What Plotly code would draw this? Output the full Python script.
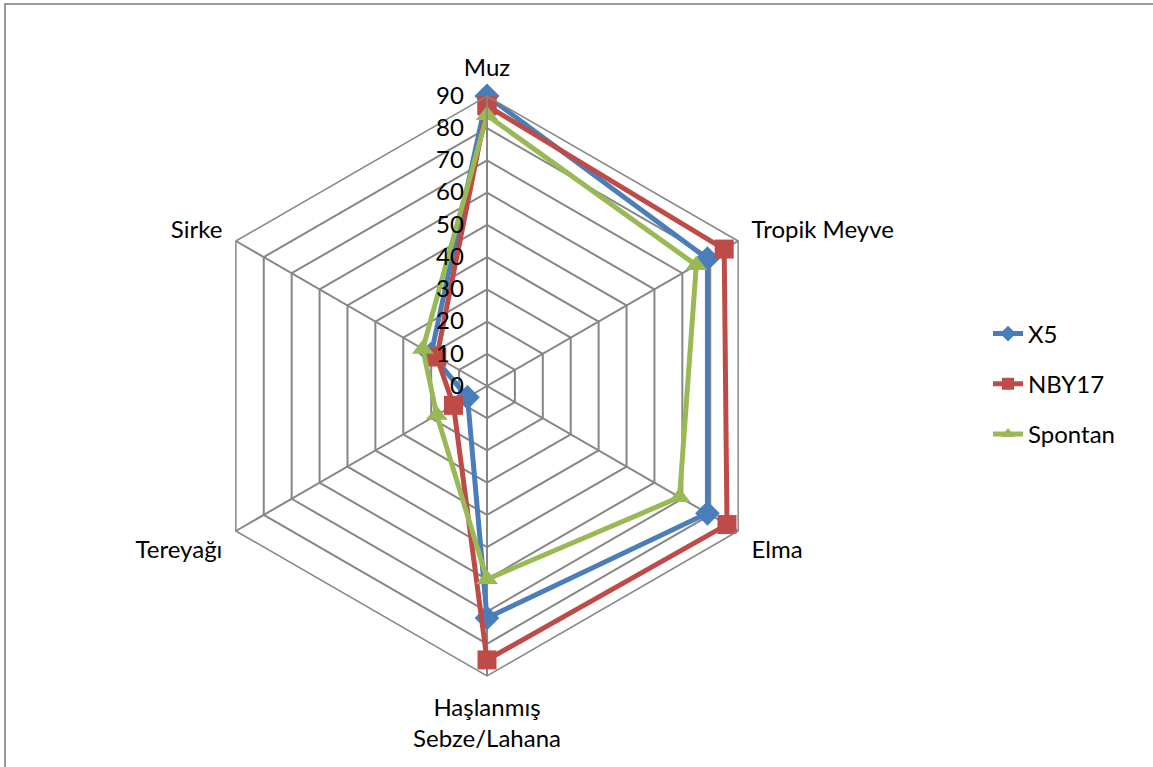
import plotly.graph_objects as go

categories = ["Muz", "Tropik Meyve", "Elma", "Haşlanmış<br>Sebze/Lahana", "Tereyağı", "Sirke"]
x5 = [90, 79, 79, 72, 7, 20]
nby17 = [87, 85, 86, 85, 12, 18]
spontan = [84, 75, 69, 60, 18, 23]
radial_ticks = [0, 10, 20, 30, 40, 50, 60, 70, 80, 90]

series = [
    ("X5", x5, "#4a7ebb", "diamond", 19),
    ("NBY17", nby17, "#be4b48", "square", 19),
    ("Spontan", spontan, "#98b954", "triangle-up", 19),
]

W, H = 1153, 767
cx, cy, R = 487, 386, 290

fig = go.Figure()
for name, vals, col, sym, sz in series:
    fig.add_trace(go.Scatterpolar(
        r=vals + vals[:1],
        theta=categories + categories[:1],
        mode="lines+markers",
        name=name,
        legendgroup=name,
        line=dict(color=col, width=5),
        marker=dict(symbol=sym, size=sz, color=col),
    ))

fig.update_layout(
    width=W, height=H,
    margin=dict(l=0, r=0, t=0, b=0),
    paper_bgcolor="white",
    font=dict(family="Lato, 'Liberation Sans', sans-serif", size=24, color="black"),
    polar=dict(
        domain=dict(x=[(cx - R) / W, (cx + R) / W], y=[(H - cy - R) / H, (H - cy + R) / H]),
        gridshape="linear",
        bgcolor="white",
        radialaxis=dict(
            range=[0, 90], tickvals=radial_ticks, angle=90, tickangle=90,
            side="counterclockwise",
            showline=True, linecolor="#868686", linewidth=1.5,
            gridcolor="#868686", gridwidth=1.5,
            ticks="outside", ticklen=14, tickcolor="rgba(0,0,0,0)",
            tickfont=dict(size=24),
        ),
        angularaxis=dict(
            rotation=90, direction="clockwise",
            showline=True, linecolor="#868686", linewidth=1.5,
            gridcolor="#868686", gridwidth=1.5,
            ticks="outside", ticklen=10, tickcolor="rgba(0,0,0,0)",
            tickfont=dict(size=24),
        ),
    ),
    legend=dict(x=988 / W, y=1 - 384 / H, xanchor="left", yanchor="middle",
                font=dict(size=24), tracegroupgap=16, itemsizing="constant"),
    shapes=[dict(type="rect", xref="paper", yref="paper",
                 x0=5 / W, x1=1.02, y0=-0.02, y1=1 - 4 / H,
                 line=dict(color="#9a9a9a", width=2))],
)

fig.write_html("out.html")
